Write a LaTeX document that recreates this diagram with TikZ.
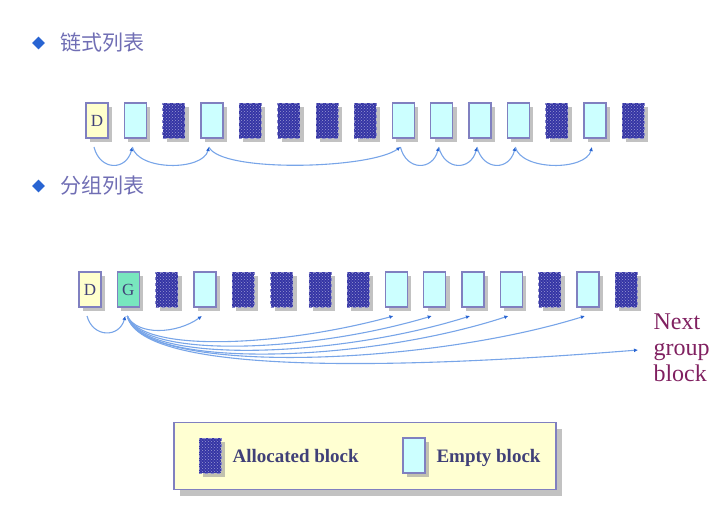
\documentclass[tikz,border=0pt]{standalone}
\usepackage{fontspec}
\setmainfont{Liberation Serif}
\newfontfamily\cjkfont{Noto Sans CJK SC}
\usetikzlibrary{positioning,arrows.meta,shadows,patterns,shapes.geometric}

\definecolor{usedc}{RGB}{52,52,165}
\definecolor{freec}{RGB}{204,255,255}
\definecolor{edgec}{RGB}{128,128,192}
\definecolor{linkc}{RGB}{120,165,232}
\definecolor{tipc}{RGB}{40,100,210}
\definecolor{headc}{RGB}{112,110,180}
\definecolor{notec}{RGB}{128,32,96}
\definecolor{textc}{RGB}{64,64,120}
\definecolor{legendc}{RGB}{255,255,210}
\definecolor{dirc}{RGB}{255,255,204}
\definecolor{grpc}{RGB}{120,230,190}

\begin{document}
\begin{tikzpicture}[x=1pt,y=-1pt,node distance=16.3pt,
		blk/.style={minimum width=22pt,minimum height=35pt,inner sep=0pt,outer sep=0pt,
				drop shadow={shadow xshift=4pt,shadow yshift=-4pt,fill=black!40,opacity=.6}},
		freeblk/.style={blk,draw=edgec,line width=1.2pt,fill=freec},
		usedblk/.style={blk,draw=usedc!60!white,dashed,fill=usedc,
				postaction={pattern=crosshatch dots,pattern color=usedc!50!white}},
		letter/.style={text=textc,font=\fontsize{17}{19}\selectfont},
		head/.style={text=headc,font=\cjkfont\fontsize{21}{24}\selectfont},
		bullet/.style={diamond,fill=tipc,inner sep=0pt,minimum size=13pt},
		link/.style={draw=linkc,line width=1.1pt,-{Latex[length=4pt,width=4pt,color=tipc]}},
		keytext/.style={text=textc,font=\bfseries\fontsize{19}{22}\selectfont,anchor=base west}]

	\useasboundingbox (0,0) rectangle (727,509);

	% headings
	\node[bullet] (dot1) at (38.5,43) {};
	\node[head,right=12pt of dot1] (head1) {链式列表};
	\node[bullet] (dot2) at (38.5,186) {};
	\node[head,right=12pt of dot2] (head2) {分组列表};

	% linked list
	\node[freeblk,fill=dirc,letter] (a0) at (97,120.5) {D};
	\foreach \k [count=\i, remember=\i as \j (initially 0)] in
		{freeblk,usedblk,freeblk,usedblk,usedblk,usedblk,usedblk,freeblk,freeblk,freeblk,freeblk,usedblk,freeblk,usedblk}
		\node[\k,right=of a\j] (a\i) {};

	\foreach \s/\t in {0/1,1/3,8/9,9/10,10/11,11/13}
		\draw[link] ([shift={(-3pt,-9pt)}]a\s.south) .. controls +(6,24) and +(-6,24) .. ([shift={(-3pt,-9pt)}]a\t.south);
	\draw[link] ([shift={(-3pt,-9pt)}]a3.south) .. controls +(12,26) and +(-30,22) .. ([shift={(-3pt,-9pt)}]a8.south);

	% grouped list
	\node[freeblk,fill=dirc,letter] (b0) at (90,289.5) {D};
	\node[freeblk,fill=grpc,letter,right=of b0] (b1) {G};
	\foreach \k [count=\i from 2, remember=\i as \j (initially 1)] in
		{usedblk,freeblk,usedblk,usedblk,usedblk,usedblk,freeblk,freeblk,freeblk,freeblk,usedblk,freeblk,usedblk}
		\node[\k,right=of b\j] (b\i) {};

	\coordinate (nxt) at (638,350);
	\node[text=notec,font=\fontsize{24}{26}\selectfont,align=left,anchor=west] (note) at (650,348) {Next\\group\\block};

	\draw[link] ([shift={(-3pt,-9pt)}]b0.south) .. controls +(6,22) and +(-6,22) .. ([shift={(-3pt,-9pt)}]b1.south);
	\draw[link] ([shift={(-1pt,-9pt)}]b1.south) .. controls +(10,20) and +(-25,18) .. ([shift={(-3pt,-9pt)}]b3.south);
	\foreach \t/\d/\e/\f in {8/38/110/30,9/44/120/36,10/50/130/41,11/55/140/46,13/60/160/50}
		\draw[link] ([shift={(-1pt,-9pt)}]b1.south) .. controls +(15,\d) and +(-\e,\f) .. ([shift={(-3pt,-9pt)}]b\t.south);
	\draw[link] ([shift={(-1pt,-9pt)}]b1.south) .. controls +(15,64) and +(-200,16) .. (nxt);

	% legend
	\node[draw=edgec,line width=1.5pt,fill=legendc,minimum width=382pt,minimum height=67pt,
		drop shadow={shadow xshift=6pt,shadow yshift=-6pt,fill=black!40,opacity=.6}] (key) at (365,456) {};
	\node[usedblk] (keyused) at (210,455.5) {};
	\node[keytext] (keyusedtxt) at (229,462) {Allocated block};
	\node[freeblk] (keyfree) at (414,455.5) {};
	\node[keytext] (keyfreetxt) at (433,462) {Empty block};

\end{tikzpicture}
\end{document}
